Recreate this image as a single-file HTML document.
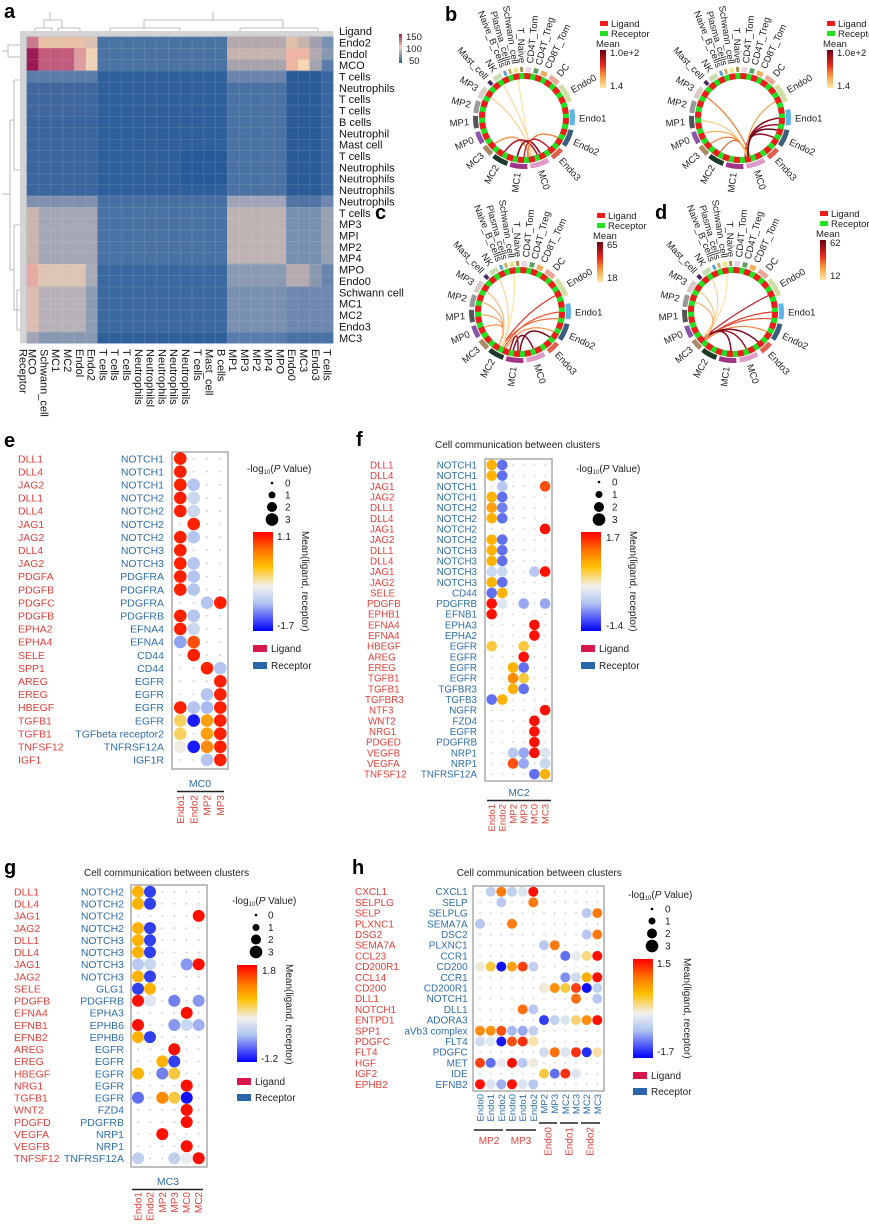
<!DOCTYPE html>
<html><head><meta charset="utf-8"><style>
html,body{margin:0;padding:0;background:#fff}
svg{display:block;font-family:"Liberation Sans",Arial,sans-serif}
</style></head><body>
<svg width="869" height="1225" viewBox="0 0 869 1225" xmlns="http://www.w3.org/2000/svg">
<defs>
<pattern id="hg" x="26.7" y="36.7" width="11.79" height="11.36" patternUnits="userSpaceOnUse"><path d="M0 0H11.79M0 0V11.36" stroke="#fff" stroke-opacity="0.28" stroke-width="0.7" fill="none"/></pattern>
<linearGradient id="hmg" x1="0" y1="0" x2="0" y2="1"><stop offset="0" stop-color="#9c1a52"/><stop offset="0.45" stop-color="#f2d2b2"/><stop offset="1" stop-color="#2f5f9a"/></linearGradient>
<linearGradient id="chg" x1="0" y1="0" x2="0" y2="1"><stop offset="0" stop-color="#6a0010"/><stop offset="0.4" stop-color="#e8281c"/><stop offset="0.7" stop-color="#f8a040"/><stop offset="1" stop-color="#fde8a8"/></linearGradient>
<linearGradient id="dg" x1="0" y1="0" x2="0" y2="1"><stop offset="0" stop-color="#ff0000"/><stop offset="0.2" stop-color="#ff7a00"/><stop offset="0.35" stop-color="#ffc000"/><stop offset="0.55" stop-color="#f0f0f0"/><stop offset="0.72" stop-color="#b0c4f0"/><stop offset="1" stop-color="#0000ff"/></linearGradient>
<pattern id="pe" x="173.65" y="452.05" width="13.3" height="13.1" patternUnits="userSpaceOnUse"><circle cx="6.65" cy="6.55" r="0.9" fill="#c4c4c4"/></pattern>
<pattern id="pf" x="486.35" y="459.67" width="10.7" height="10.66" patternUnits="userSpaceOnUse"><circle cx="5.35" cy="5.33" r="0.8" fill="#c4c4c4"/></pattern>
<pattern id="pg" x="131.94" y="885.64" width="12.12" height="12.12" patternUnits="userSpaceOnUse"><circle cx="6.06" cy="6.06" r="0.9" fill="#c4c4c4"/></pattern>
<pattern id="ph" x="474.67" y="886.35" width="10.67" height="10.7" patternUnits="userSpaceOnUse"><circle cx="5.33" cy="5.35" r="0.8" fill="#c4c4c4"/></pattern>
<g id="ring" fill="none">
<circle r="42" stroke="#22e022" stroke-width="6"/>
<circle r="42" stroke="#ee1c1c" stroke-width="6" stroke-dasharray="6 5"/>
<g stroke-width="5">
<circle r="48.5" stroke="#5ab4e8" stroke-dasharray="15.7 1000" transform="rotate(-10)"/>
<circle r="48.5" stroke="#3a5f7e" stroke-dasharray="17.4 1000" transform="rotate(14)"/>
<circle r="48.5" stroke="#e06050" stroke-dasharray="12.3 1000" transform="rotate(40)"/>
<circle r="48.5" stroke="#e09ac8" stroke-dasharray="19 1000" transform="rotate(60)"/>
<circle r="48.5" stroke="#a03585" stroke-dasharray="17.4 1000" transform="rotate(86)"/>
<circle r="48.5" stroke="#1d3a28" stroke-dasharray="15.7 1000" transform="rotate(110)"/>
<circle r="48.5" stroke="#a88a64" stroke-dasharray="10.6 1000" transform="rotate(132)"/>
<circle r="48.5" stroke="#8a55a5" stroke-dasharray="12.3 1000" transform="rotate(149)"/>
<circle r="48.5" stroke="#555555" stroke-dasharray="12.3 1000" transform="rotate(168)"/>
<circle r="48.5" stroke="#9a9a9a" stroke-dasharray="12.3 1000" transform="rotate(186)"/>
<circle r="48.5" stroke="#d8cac4" stroke-dasharray="12.3 1000" transform="rotate(204)"/>
<circle r="48.5" stroke="#4a2a60" stroke-dasharray="3.8 1000" transform="rotate(224)"/>
<circle r="48.5" stroke="#c8dcb4" stroke-dasharray="8.9 1000" transform="rotate(232)"/>
<circle r="48.5" stroke="#5aa0d0" stroke-dasharray="3 1000" transform="rotate(245.5)"/>
<circle r="48.5" stroke="#d0b060" stroke-dasharray="3 1000" transform="rotate(251.5)"/>
<circle r="48.5" stroke="#f2e68a" stroke-dasharray="4.7 1000" transform="rotate(257.5)"/>
<circle r="48.5" stroke="#a88a48" stroke-dasharray="3 1000" transform="rotate(265.5)"/>
<circle r="48.5" stroke="#e8d4e4" stroke-dasharray="5.5 1000" transform="rotate(272)"/>
<circle r="48.5" stroke="#5aa060" stroke-dasharray="4.7 1000" transform="rotate(281.5)"/>
<circle r="48.5" stroke="#f0b060" stroke-dasharray="6.3 1000" transform="rotate(290.5)"/>
<circle r="48.5" stroke="#e8a898" stroke-dasharray="10.6 1000" transform="rotate(302)"/>
<circle r="48.5" stroke="#d0e0a4" stroke-dasharray="19 1000" transform="rotate(318)"/>
</g>
</g>
<g id="chA" fill="none" stroke-width="1.1">
<path d="M-6.1,-38.5Q0,0 6.8,38.4" stroke="#fde0a0"/>
<path d="M-20.7,-33.1Q-1.3,0.6 10.1,37.7" stroke="#fcd49a"/>
<path d="M-33.1,-20.7Q-3.1,2.2 8.1,38.1" stroke="#fdc98a"/>
<path d="M-29.4,25.6Q-3,8 5.4,38.6" stroke="#f79a50" stroke-width="1.5"/>
<path d="M-19.5,33.8Q-0.8,8.8 13.3,36.6" stroke="#b01a2a" stroke-width="1.6"/>
<path d="M-6.8,38.4Q1.2,9.2 16,35" stroke="#8a0a20" stroke-width="1.6"/>
<path d="M33.8,19.5Q4.7,7.3 3.4,38.9" stroke="#f08040" stroke-width="1.4"/>
<path d="M25.1,29.9Q3.1,8.6 0,39" stroke="#c02030" stroke-width="1.4"/>
</g>
<g id="chB" fill="none" stroke-width="1.2">
<path d="M6.8,38.4Q5.7,4.8 39,0" stroke="#8a0a20" stroke-width="1.6"/>
<path d="M8.1,38.1Q5.8,5.6 38.4,6.8" stroke="#9a1028" stroke-width="1.6"/>
<path d="M5.4,38.6Q4.9,7.3 33.8,19.5" stroke="#a01828" stroke-width="1.6"/>
<path d="M6.8,38.4Q5.3,2.7 35.3,-16.5" stroke="#f0a050"/>
<path d="M8.1,38.1Q-3.5,6.7 -35.9,15.2" stroke="#f8b060"/>
<path d="M6.8,38.4Q-2.8,8 -29.4,25.6" stroke="#f08040"/>
<path d="M10.1,37.7Q-2.9,2.1 -33.1,-20.7" stroke="#f07830"/>
<path d="M6.8,38.4Q-1.6,9 -19.5,33.8" stroke="#e06030"/>
<path d="M6.8,38.4Q-4,5.1 -38.9,2.7" stroke="#fcc880"/>
<path d="M8.1,38.1Q5.6,6.3 37,12" stroke="#600818" stroke-width="1.6"/>
</g>
<g id="chC" fill="none" stroke-width="1.2">
<path d="M-18.3,34.4Q2.1,2.2 35.3,-16.5" stroke="#e03020"/>
<path d="M-16,35.6Q2.9,4.5 39,0" stroke="#f05030"/>
<path d="M-18.3,34.4Q2.5,5.1 38.4,6.8" stroke="#f06838"/>
<path d="M-14,36.4Q2.5,7 33.8,19.5" stroke="#f89050"/>
<path d="M-6.8,38.4Q0.8,9.4 13.3,36.6" stroke="#8a0a20" stroke-width="1.5"/>
<path d="M0,39Q3.7,8 29.9,25.1" stroke="#7a0818" stroke-width="1.5"/>
<path d="M-21,33Q-7.3,2.9 -37.7,-10.1" stroke="#fca870"/>
<path d="M-21,33Q-7.5,4.5 -38.9,2.7" stroke="#f8a060"/>
<path d="M-21,33Q-7.1,6 -35.9,15.2" stroke="#f89050"/>
<path d="M-21,33Q-6.8,1.5 -33.1,-20.7" stroke="#fcb880"/>
<path d="M-6.1,-38.5Q-3,-0.5 -18.3,34.4" stroke="#fde6a0"/>
<path d="M-20.7,-33.1Q-4.7,0.2 -17,35" stroke="#fcd49a"/>
<path d="M-10,37.7Q-1.5,9.6 -2,39" stroke="#a01020" stroke-width="1.5"/>
</g>
<g id="chD" fill="none" stroke-width="1.2">
<path d="M-29.4,25.6Q0.7,1.1 35.3,-16.5" stroke="#c01828"/>
<path d="M-28,27Q1.4,3.4 39,0" stroke="#e03828"/>
<path d="M-28,27Q1.3,4.2 38.4,6.8" stroke="#f05030"/>
<path d="M-27,28Q0.9,6 33.8,19.5" stroke="#f58a48"/>
<path d="M-29.4,25.6Q-3.9,8 -2,39" stroke="#8a0a20" stroke-width="1.5"/>
<path d="M-29.4,25.6Q-2,7.8 13.3,36.6" stroke="#9a1028" stroke-width="1.5"/>
<path d="M-29.4,25.6Q-0.5,7 25.1,29.9" stroke="#7a0818" stroke-width="1.5"/>
<path d="M-6.1,-38.5Q-4.4,-1.6 -29.4,25.6" stroke="#fde0a0"/>
<path d="M-20.7,-33.1Q-6.3,-1 -30,25" stroke="#fcd49a"/>
<path d="M-33.1,-20.7Q-7.6,0.8 -28,27" stroke="#fcc880"/>
<path d="M-37.7,-10.1Q-8.2,2.1 -28,27" stroke="#fbb070"/>
</g>
</defs>

<!-- ===== Panel a ===== -->
<text x="4" y="18" font-size="20" font-weight="bold">a</text>
<g stroke="#aaa" stroke-width="0.8" fill="none">
<path d="M50,12V20M44,20H62M44,20V28M62,20V28M35,28H52M35,28V32M52,28V32M58,28H80M58,28V32M80,28V32M32,32V36M41,32V36M76,32V36M88,32V36"/>
<path d="M213,12V20M144,20H283M144,20V28M283,20V28M110,28H180M110,28V32M180,28V32M100,32H130M150,32H215M100,32V36M130,32V36M150,32V36M215,32V36M240,28H318M240,28V32M318,28V32M232,32H270M295,32H325M232,32V36M270,32V36M295,32V36M325,32V36"/>
<path d="M2,51H8M8,45V57M8,45H20M8,57H20"/>
<path d="M2,194H10M10,120V270M10,120H14M14,80V170M14,80H20M14,170H20M10,270H14M14,225V310M14,225H20M14,310H20M17,290V330M17,290H20M17,330H20"/>
</g>
<rect x="20" y="31" width="313.3" height="5.7" fill="#d4d4d4"/>
<rect x="20" y="31" width="6.7" height="312.4" fill="#d4d4d4"/>
<rect x="26.7" y="36.7" width="306.6" height="306.7" fill="#3464a0"/>
<g>
<rect x="26.7" y="36.7" width="11.8" height="11.36" fill="#c87a8c"/>
<rect x="38.5" y="36.7" width="47.4" height="11.36" fill="#e8c0a8"/>
<rect x="85.9" y="36.7" width="11.5" height="11.36" fill="#dcc0b4"/>
<rect x="97.4" y="36.7" width="129.7" height="34.1" fill="#4a72a2"/>
<rect x="227.1" y="36.7" width="59" height="11.36" fill="#b4a8ac"/>
<rect x="286.1" y="36.7" width="11.8" height="11.36" fill="#e0c0a8"/>
<rect x="297.9" y="36.7" width="11.8" height="11.36" fill="#c8b4ac"/>
<rect x="309.7" y="36.7" width="11.8" height="11.36" fill="#a0a0ac"/>
<rect x="321.5" y="36.7" width="11.8" height="11.36" fill="#7890b0"/>
<rect x="26.7" y="48.06" width="11.8" height="22.72" fill="#9c1a52"/>
<rect x="38.5" y="48.06" width="35.6" height="11.36" fill="#c45a7a"/>
<rect x="74.1" y="48.06" width="11.8" height="11.36" fill="#e09a9a"/>
<rect x="85.9" y="48.06" width="11.5" height="11.36" fill="#f2d2b2"/>
<rect x="227.1" y="48.06" width="59" height="11.36" fill="#c4b4ac"/>
<rect x="286.1" y="48.06" width="23.6" height="11.36" fill="#eeb4a4"/>
<rect x="309.7" y="48.06" width="11.8" height="11.36" fill="#b0a8ac"/>
<rect x="321.5" y="48.06" width="11.8" height="11.36" fill="#8898b0"/>
<rect x="38.5" y="59.42" width="35.6" height="11.36" fill="#c25c7c"/>
<rect x="74.1" y="59.42" width="11.8" height="11.36" fill="#dc9ea0"/>
<rect x="85.9" y="59.42" width="11.5" height="11.36" fill="#ecd2b8"/>
<rect x="227.1" y="59.42" width="59" height="11.36" fill="#a8a4ac"/>
<rect x="286.1" y="59.42" width="11.8" height="11.36" fill="#eeb4a4"/>
<rect x="297.9" y="59.42" width="11.8" height="11.36" fill="#f8d8b4"/>
<rect x="309.7" y="59.42" width="11.8" height="11.36" fill="#a4a4b0"/>
<rect x="321.5" y="59.42" width="11.8" height="11.36" fill="#5c7cac"/>
</g>
<rect x="26.7" y="70.8" width="70.7" height="124.9" fill="#3a659e"/>
<rect x="227.1" y="70.8" width="59" height="124.9" fill="#4a72a4"/>
<rect x="286.1" y="70.8" width="35.4" height="124.9" fill="#2c5c98"/>
<rect x="321.5" y="70.8" width="11.8" height="124.9" fill="#3a66a0"/>
<rect x="26.7" y="70.8" width="70.7" height="11.36" fill="#5a7ca8"/>
<rect x="227.1" y="70.8" width="59" height="11.36" fill="#6a84ac"/>
<rect x="26.7" y="82.2" width="70.7" height="34" fill="#44699f" opacity="0.6"/>
<rect x="97.4" y="70.8" width="129.7" height="124.9" fill="#30609b"/>
<rect x="180" y="150" width="47" height="35" fill="#285a9a"/>
<rect x="26.7" y="195.7" width="70.7" height="11.36" fill="#8090b0"/>
<rect x="97.4" y="195.7" width="129.7" height="11.36" fill="#4670a2"/>
<rect x="227.1" y="195.7" width="59" height="11.36" fill="#a0a4b8"/>
<rect x="286.1" y="195.7" width="35.4" height="11.36" fill="#5074a4"/>
<rect x="321.5" y="195.7" width="11.8" height="11.36" fill="#7088b0"/>
<rect x="26.7" y="207.1" width="11.8" height="56.8" fill="#cab4ac"/>
<rect x="38.5" y="207.1" width="58.9" height="56.8" fill="#a4a8b6"/>
<rect x="97.4" y="207.1" width="129.7" height="56.8" fill="#4a72a5"/>
<rect x="227.1" y="207.1" width="59" height="56.8" fill="#beb2b2"/>
<rect x="286.1" y="207.1" width="35.4" height="56.8" fill="#7890b0"/>
<rect x="321.5" y="207.1" width="11.8" height="56.8" fill="#98a0b4"/>
<rect x="26.7" y="263.9" width="11.8" height="22.7" fill="#e6aaa2"/>
<rect x="38.5" y="263.9" width="47.4" height="22.7" fill="#dcc4b2"/>
<rect x="85.9" y="263.9" width="11.5" height="22.7" fill="#a8aab8"/>
<rect x="97.4" y="263.9" width="129.7" height="22.7" fill="#3a68a0"/>
<rect x="227.1" y="263.9" width="59" height="22.7" fill="#8a9ab4"/>
<rect x="286.1" y="263.9" width="23.6" height="22.7" fill="#b4aab0"/>
<rect x="309.7" y="263.9" width="11.8" height="22.7" fill="#8898b0"/>
<rect x="321.5" y="263.9" width="11.8" height="22.7" fill="#6a84ac"/>
<rect x="26.7" y="286.6" width="11.8" height="45.5" fill="#dcbcb0"/>
<rect x="38.5" y="286.6" width="47.4" height="45.5" fill="#b8b2b8"/>
<rect x="85.9" y="286.6" width="11.5" height="45.5" fill="#8c9cb4"/>
<rect x="97.4" y="286.6" width="129.7" height="45.5" fill="#3c69a0"/>
<rect x="227.1" y="286.6" width="59" height="45.5" fill="#7a90b0"/>
<rect x="286.1" y="286.6" width="47.2" height="45.5" fill="#6e88b0"/>
<rect x="26.7" y="332.1" width="11.8" height="11.3" fill="#a0a4b4"/>
<rect x="38.5" y="332.1" width="58.9" height="11.3" fill="#8898b0"/>
<rect x="97.4" y="332.1" width="129.7" height="11.3" fill="#30609a"/>
<rect x="227.1" y="332.1" width="59" height="11.3" fill="#5a7cac"/>
<rect x="286.1" y="332.1" width="47.2" height="11.3" fill="#4a72a4"/>
<rect x="26.7" y="36.7" width="306.6" height="306.7" fill="url(#hg)"/>
<text font-size="11" fill="#111">
<tspan x="339" y="35">Ligand</tspan>
<tspan x="339" y="46.4">Endo2</tspan><tspan x="339" dy="11.36">Endol</tspan><tspan x="339" dy="11.36">MCO</tspan><tspan x="339" dy="11.36">T cells</tspan><tspan x="339" dy="11.36">Neutrophils</tspan><tspan x="339" dy="11.36">T cells</tspan><tspan x="339" dy="11.36">T cells</tspan><tspan x="339" dy="11.36">B cells</tspan><tspan x="339" dy="11.36">Neutrophil</tspan><tspan x="339" dy="11.36">Mast cell</tspan><tspan x="339" dy="11.36">T cells</tspan><tspan x="339" dy="11.36">Neutrophils</tspan><tspan x="339" dy="11.36">Neutrophils</tspan><tspan x="339" dy="11.36">Neutrophils</tspan><tspan x="339" dy="11.36">Neutrophils</tspan><tspan x="339" dy="11.36">T cells</tspan><tspan x="339" dy="11.36">MP3</tspan><tspan x="339" dy="11.36">MPI</tspan><tspan x="339" dy="11.36">MP2</tspan><tspan x="339" dy="11.36">MP4</tspan><tspan x="339" dy="11.36">MPO</tspan><tspan x="339" dy="11.36">Endo0</tspan><tspan x="339" dy="11.36">Schwann cell</tspan><tspan x="339" dy="11.36">MC1</tspan><tspan x="339" dy="11.36">MC2</tspan><tspan x="339" dy="11.36">Endo3</tspan><tspan x="339" dy="11.36">MC3</tspan>
</text>
<g font-size="11" fill="#111">
<text transform="translate(19.5,349) rotate(90)">Receptor</text>
<text transform="translate(28.6,349) rotate(90)">MCO</text>
<text transform="translate(40.4,349) rotate(90)">Schwann_cell</text>
<text transform="translate(52.2,349) rotate(90)">MC1</text>
<text transform="translate(64,349) rotate(90)">MC2</text>
<text transform="translate(75.8,349) rotate(90)">Endol</text>
<text transform="translate(87.6,349) rotate(90)">Endo2</text>
<text transform="translate(99.4,349) rotate(90)">T cells</text>
<text transform="translate(111.2,349) rotate(90)">T cells</text>
<text transform="translate(123,349) rotate(90)">T cells</text>
<text transform="translate(134.8,349) rotate(90)">Neutrophils</text>
<text transform="translate(146.6,349) rotate(90)">Neutrophilsl</text>
<text transform="translate(158.4,349) rotate(90)">Neutrophils</text>
<text transform="translate(170.2,349) rotate(90)">Neutrophils</text>
<text transform="translate(182,349) rotate(90)">Neutrophils</text>
<text transform="translate(193.8,349) rotate(90)">T cells</text>
<text transform="translate(205.6,349) rotate(90)">Mast_cell</text>
<text transform="translate(217.4,349) rotate(90)">B cells</text>
<text transform="translate(229.2,349) rotate(90)">MP1</text>
<text transform="translate(241,349) rotate(90)">MP3</text>
<text transform="translate(252.8,349) rotate(90)">MP2</text>
<text transform="translate(264.6,349) rotate(90)">MP4</text>
<text transform="translate(276.4,349) rotate(90)">MPO</text>
<text transform="translate(288.2,349) rotate(90)">Endo0</text>
<text transform="translate(300,349) rotate(90)">MC3</text>
<text transform="translate(311.8,349) rotate(90)">Endo3</text>
<text transform="translate(323.6,349) rotate(90)">T cells</text>
</g>
<rect x="399" y="34" width="3" height="29" fill="url(#hmg)"/>
<text font-size="9.5" fill="#222"><tspan x="406" y="40">150</tspan><tspan x="406" y="52">100</tspan><tspan x="409" y="64">50</tspan></text>

<!-- ===== Chord diagrams ===== -->
<text x="445" y="21" font-size="20" font-weight="bold">b</text>
<text x="375" y="219" font-size="20" font-weight="bold">c</text>
<text x="655" y="219" font-size="20" font-weight="bold">d</text>

<g transform="translate(524,118)"><use href="#ring"/><use href="#chA"/></g>
<g transform="translate(740,118)"><use href="#ring"/><use href="#chB"/></g>
<g transform="translate(520,312)"><use href="#ring"/><use href="#chC"/></g>
<g transform="translate(733,312)"><use href="#ring"/><use href="#chD"/></g>

<g font-size="9.5" fill="#222">
<g transform="translate(524,118)">
<text x="55" y="0" dy=".35em">Endo1</text>
<text transform="rotate(25) translate(55,0)" dy=".35em">Endo2</text>
<text transform="rotate(48) translate(55,0)" dy=".35em">Endo3</text>
<text transform="rotate(72) translate(55,0)" dy=".35em">MC0</text>
<text transform="rotate(97) translate(55,0) rotate(180)" dy=".35em" text-anchor="end">MC1</text>
<text transform="rotate(120) translate(55,0) rotate(180)" dy=".35em" text-anchor="end">MC2</text>
<text transform="rotate(139) translate(55,0) rotate(180)" dy=".35em" text-anchor="end">MC3</text>
<text transform="rotate(157) translate(55,0) rotate(180)" dy=".35em" text-anchor="end">MP0</text>
<text transform="rotate(176) translate(55,0) rotate(180)" dy=".35em" text-anchor="end">MP1</text>
<text transform="rotate(194) translate(55,0) rotate(180)" dy=".35em" text-anchor="end">MP2</text>
<text transform="rotate(212) translate(55,0) rotate(180)" dy=".35em" text-anchor="end">MP3</text>
<text transform="rotate(227) translate(55,0) rotate(180)" dy=".35em" text-anchor="end">Mast_cell</text>
<text transform="rotate(238) translate(55,0) rotate(180)" dy=".35em" text-anchor="end">NK</text>
<text transform="rotate(248) translate(55,0) rotate(180)" dy=".35em" text-anchor="end">Naive_B_cells</text>
<text transform="rotate(254) translate(55,0) rotate(180)" dy=".35em" text-anchor="end">Plasma_cells</text>
<text transform="rotate(261) translate(55,0) rotate(180)" dy=".35em" text-anchor="end">Schwann_cell</text>
<text transform="rotate(268) translate(55,0) rotate(180)" dy=".35em" text-anchor="end">T_Naive</text>
<text transform="rotate(276) translate(55,0)" dy=".35em">CD4T_Tom</text>
<text transform="rotate(285) translate(55,0)" dy=".35em">CD4T_Treg</text>
<text transform="rotate(295) translate(55,0)" dy=".35em">CD8T_Tom</text>
<text transform="rotate(309) translate(55,0)" dy=".35em">DC</text>
<text transform="rotate(330) translate(55,0)" dy=".35em">Endo0</text>
</g>
<g transform="translate(740,118)">
<text x="55" y="0" dy=".35em">Endo1</text>
<text transform="rotate(25) translate(55,0)" dy=".35em">Endo2</text>
<text transform="rotate(48) translate(55,0)" dy=".35em">Endo3</text>
<text transform="rotate(72) translate(55,0)" dy=".35em">MC0</text>
<text transform="rotate(97) translate(55,0) rotate(180)" dy=".35em" text-anchor="end">MC1</text>
<text transform="rotate(120) translate(55,0) rotate(180)" dy=".35em" text-anchor="end">MC2</text>
<text transform="rotate(139) translate(55,0) rotate(180)" dy=".35em" text-anchor="end">MC3</text>
<text transform="rotate(157) translate(55,0) rotate(180)" dy=".35em" text-anchor="end">MP0</text>
<text transform="rotate(176) translate(55,0) rotate(180)" dy=".35em" text-anchor="end">MP1</text>
<text transform="rotate(194) translate(55,0) rotate(180)" dy=".35em" text-anchor="end">MP2</text>
<text transform="rotate(212) translate(55,0) rotate(180)" dy=".35em" text-anchor="end">MP3</text>
<text transform="rotate(227) translate(55,0) rotate(180)" dy=".35em" text-anchor="end">Mast_cell</text>
<text transform="rotate(238) translate(55,0) rotate(180)" dy=".35em" text-anchor="end">NK</text>
<text transform="rotate(248) translate(55,0) rotate(180)" dy=".35em" text-anchor="end">Naive_B_cells</text>
<text transform="rotate(254) translate(55,0) rotate(180)" dy=".35em" text-anchor="end">Plasma_cells</text>
<text transform="rotate(261) translate(55,0) rotate(180)" dy=".35em" text-anchor="end">Schwann_cell</text>
<text transform="rotate(268) translate(55,0) rotate(180)" dy=".35em" text-anchor="end">T_Naive</text>
<text transform="rotate(276) translate(55,0)" dy=".35em">CD4T_Tom</text>
<text transform="rotate(285) translate(55,0)" dy=".35em">CD4T_Treg</text>
<text transform="rotate(295) translate(55,0)" dy=".35em">CD8T_Tom</text>
<text transform="rotate(309) translate(55,0)" dy=".35em">DC</text>
<text transform="rotate(330) translate(55,0)" dy=".35em">Endo0</text>
</g>
<g transform="translate(520,312)">
<text x="55" y="0" dy=".35em">Endo1</text>
<text transform="rotate(25) translate(55,0)" dy=".35em">Endo2</text>
<text transform="rotate(48) translate(55,0)" dy=".35em">Endo3</text>
<text transform="rotate(72) translate(55,0)" dy=".35em">MC0</text>
<text transform="rotate(97) translate(55,0) rotate(180)" dy=".35em" text-anchor="end">MC1</text>
<text transform="rotate(120) translate(55,0) rotate(180)" dy=".35em" text-anchor="end">MC2</text>
<text transform="rotate(139) translate(55,0) rotate(180)" dy=".35em" text-anchor="end">MC3</text>
<text transform="rotate(157) translate(55,0) rotate(180)" dy=".35em" text-anchor="end">MP0</text>
<text transform="rotate(176) translate(55,0) rotate(180)" dy=".35em" text-anchor="end">MP1</text>
<text transform="rotate(194) translate(55,0) rotate(180)" dy=".35em" text-anchor="end">MP2</text>
<text transform="rotate(212) translate(55,0) rotate(180)" dy=".35em" text-anchor="end">MP3</text>
<text transform="rotate(227) translate(55,0) rotate(180)" dy=".35em" text-anchor="end">Mast_cell</text>
<text transform="rotate(238) translate(55,0) rotate(180)" dy=".35em" text-anchor="end">NK</text>
<text transform="rotate(248) translate(55,0) rotate(180)" dy=".35em" text-anchor="end">Naive_B_cells</text>
<text transform="rotate(254) translate(55,0) rotate(180)" dy=".35em" text-anchor="end">Plasma_cells</text>
<text transform="rotate(261) translate(55,0) rotate(180)" dy=".35em" text-anchor="end">Schwann_cell</text>
<text transform="rotate(268) translate(55,0) rotate(180)" dy=".35em" text-anchor="end">T_Naive</text>
<text transform="rotate(276) translate(55,0)" dy=".35em">CD4T_Tom</text>
<text transform="rotate(285) translate(55,0)" dy=".35em">CD4T_Treg</text>
<text transform="rotate(295) translate(55,0)" dy=".35em">CD8T_Tom</text>
<text transform="rotate(309) translate(55,0)" dy=".35em">DC</text>
<text transform="rotate(330) translate(55,0)" dy=".35em">Endo0</text>
</g>
<g transform="translate(733,312)">
<text x="55" y="0" dy=".35em">Endo1</text>
<text transform="rotate(25) translate(55,0)" dy=".35em">Endo2</text>
<text transform="rotate(48) translate(55,0)" dy=".35em">Endo3</text>
<text transform="rotate(72) translate(55,0)" dy=".35em">MC0</text>
<text transform="rotate(97) translate(55,0) rotate(180)" dy=".35em" text-anchor="end">MC1</text>
<text transform="rotate(120) translate(55,0) rotate(180)" dy=".35em" text-anchor="end">MC2</text>
<text transform="rotate(139) translate(55,0) rotate(180)" dy=".35em" text-anchor="end">MC3</text>
<text transform="rotate(157) translate(55,0) rotate(180)" dy=".35em" text-anchor="end">MP0</text>
<text transform="rotate(176) translate(55,0) rotate(180)" dy=".35em" text-anchor="end">MP1</text>
<text transform="rotate(194) translate(55,0) rotate(180)" dy=".35em" text-anchor="end">MP2</text>
<text transform="rotate(212) translate(55,0) rotate(180)" dy=".35em" text-anchor="end">MP3</text>
<text transform="rotate(227) translate(55,0) rotate(180)" dy=".35em" text-anchor="end">Mast_cell</text>
<text transform="rotate(238) translate(55,0) rotate(180)" dy=".35em" text-anchor="end">NK</text>
<text transform="rotate(248) translate(55,0) rotate(180)" dy=".35em" text-anchor="end">Naive_B_cells</text>
<text transform="rotate(254) translate(55,0) rotate(180)" dy=".35em" text-anchor="end">Plasma_cells</text>
<text transform="rotate(261) translate(55,0) rotate(180)" dy=".35em" text-anchor="end">Schwann_cell</text>
<text transform="rotate(268) translate(55,0) rotate(180)" dy=".35em" text-anchor="end">T_Naive</text>
<text transform="rotate(276) translate(55,0)" dy=".35em">CD4T_Tom</text>
<text transform="rotate(285) translate(55,0)" dy=".35em">CD4T_Treg</text>
<text transform="rotate(295) translate(55,0)" dy=".35em">CD8T_Tom</text>
<text transform="rotate(309) translate(55,0)" dy=".35em">DC</text>
<text transform="rotate(330) translate(55,0)" dy=".35em">Endo0</text>
</g>
</g>

<g font-size="9.5" fill="#222">
<rect x="600" y="21" width="8" height="5" fill="#ee1c1c"/><text x="611" y="27">Ligand</text>
<rect x="600" y="31" width="8" height="5" fill="#22e022"/><text x="611" y="37">Receptor</text>
<text x="596" y="47">Mean</text>
<rect x="600" y="50" width="6" height="38" fill="url(#chg)"/>
<text x="610" y="56">1.0e+2</text><text x="610" y="89">1.4</text>

<rect x="827" y="21" width="8" height="5" fill="#ee1c1c"/><text x="838" y="27">Ligand</text>
<rect x="827" y="31" width="8" height="5" fill="#22e022"/><text x="838" y="37">Receptor</text>
<text x="823" y="47">Mean</text>
<rect x="827" y="50" width="6" height="38" fill="url(#chg)"/>
<text x="837" y="56">1.0e+2</text><text x="837" y="89">1.4</text>

<rect x="597" y="213" width="8" height="5" fill="#ee1c1c"/><text x="608" y="219">Ligand</text>
<rect x="597" y="223" width="8" height="5" fill="#22e022"/><text x="608" y="229">Receptor</text>
<text x="593" y="239">Mean</text>
<rect x="597" y="242" width="6" height="40" fill="url(#chg)"/>
<text x="607" y="248">65</text><text x="607" y="281">18</text>

<rect x="820" y="211" width="8" height="5" fill="#ee1c1c"/><text x="831" y="217">Ligand</text>
<rect x="820" y="221" width="8" height="5" fill="#22e022"/><text x="831" y="227">Receptor</text>
<text x="816" y="237">Mean</text>
<rect x="820" y="240" width="6" height="40" fill="url(#chg)"/>
<text x="830" y="246">62</text><text x="830" y="279">12</text>
</g>

<!-- ===== Panel e ===== -->
<text x="4" y="447" font-size="20" font-weight="bold">e</text>
<rect x="172" y="452" width="56" height="317" fill="url(#pe)"/>
<rect x="172" y="452" width="56" height="317" fill="none" stroke="#aaa" stroke-width="1.5"/>
<text font-size="10.5" fill="#e0403a">
<tspan x="18" y="462.3">DLL1</tspan><tspan x="18" dy="13.1">DLL4</tspan><tspan x="18" dy="13.1">JAG2</tspan><tspan x="18" dy="13.1">DLL1</tspan><tspan x="18" dy="13.1">DLL4</tspan><tspan x="18" dy="13.1">JAG1</tspan><tspan x="18" dy="13.1">JAG2</tspan><tspan x="18" dy="13.1">DLL4</tspan><tspan x="18" dy="13.1">JAG2</tspan><tspan x="18" dy="13.1">PDGFA</tspan><tspan x="18" dy="13.1">PDGFB</tspan><tspan x="18" dy="13.1">PDGFC</tspan><tspan x="18" dy="13.1">PDGFB</tspan><tspan x="18" dy="13.1">EPHA2</tspan><tspan x="18" dy="13.1">EPHA4</tspan><tspan x="18" dy="13.1">SELE</tspan><tspan x="18" dy="13.1">SPP1</tspan><tspan x="18" dy="13.1">AREG</tspan><tspan x="18" dy="13.1">EREG</tspan><tspan x="18" dy="13.1">HBEGF</tspan><tspan x="18" dy="13.1">TGFB1</tspan><tspan x="18" dy="13.1">TGFB1</tspan><tspan x="18" dy="13.1">TNFSF12</tspan><tspan x="18" dy="13.1">IGF1</tspan>
</text>
<text font-size="10.5" fill="#2f6ea8" text-anchor="end">
<tspan x="164" y="462.3">NOTCH1</tspan><tspan x="164" dy="13.1">NOTCH1</tspan><tspan x="164" dy="13.1">NOTCH1</tspan><tspan x="164" dy="13.1">NOTCH2</tspan><tspan x="164" dy="13.1">NOTCH2</tspan><tspan x="164" dy="13.1">NOTCH2</tspan><tspan x="164" dy="13.1">NOTCH2</tspan><tspan x="164" dy="13.1">NOTCH3</tspan><tspan x="164" dy="13.1">NOTCH3</tspan><tspan x="164" dy="13.1">PDGFRA</tspan><tspan x="164" dy="13.1">PDGFRA</tspan><tspan x="164" dy="13.1">PDGFRA</tspan><tspan x="164" dy="13.1">PDGFRB</tspan><tspan x="164" dy="13.1">EFNA4</tspan><tspan x="164" dy="13.1">EFNA4</tspan><tspan x="164" dy="13.1">CD44</tspan><tspan x="164" dy="13.1">CD44</tspan><tspan x="164" dy="13.1">EGFR</tspan><tspan x="164" dy="13.1">EGFR</tspan><tspan x="164" dy="13.1">EGFR</tspan><tspan x="164" dy="13.1">EGFR</tspan><tspan x="164" dy="13.1">TGFbeta receptor2</tspan><tspan x="164" dy="13.1">TNFRSF12A</tspan><tspan x="164" dy="13.1">IGF1R</tspan>
</text>
<g>
<circle cx="180.3" cy="458.6" r="6.3" fill="#ff2000"/>
<circle cx="180.3" cy="471.7" r="6.3" fill="#ff2000"/>
<circle cx="180.3" cy="484.8" r="6.3" fill="#ff2000"/><circle cx="193.7" cy="484.8" r="6.3" fill="#b4c6f0"/>
<circle cx="180.3" cy="497.9" r="6.3" fill="#ff2000"/><circle cx="193.7" cy="497.9" r="6.3" fill="#c9d8ee"/>
<circle cx="180.3" cy="511" r="6.3" fill="#ff2000"/><circle cx="193.7" cy="511" r="6.3" fill="#c9d8ee"/>
<circle cx="193.7" cy="524.1" r="6.3" fill="#ff2000"/>
<circle cx="180.3" cy="537.2" r="6.3" fill="#ff2000"/><circle cx="193.7" cy="537.2" r="6.3" fill="#b4c6f0"/>
<circle cx="180.3" cy="550.3" r="6.3" fill="#ff2000"/>
<circle cx="180.3" cy="563.4" r="6.3" fill="#ff2000"/><circle cx="193.7" cy="563.4" r="6.3" fill="#b4c6f0"/>
<circle cx="180.3" cy="576.5" r="6.3" fill="#ff2000"/><circle cx="193.7" cy="576.5" r="6.3" fill="#b4c6f0"/>
<circle cx="180.3" cy="589.6" r="6.3" fill="#ff2000"/><circle cx="193.7" cy="589.6" r="6.3" fill="#b4c6f0"/>
<circle cx="207" cy="602.7" r="6.3" fill="#b4c6f0"/><circle cx="220.3" cy="602.7" r="6.3" fill="#ff2000"/>
<circle cx="180.3" cy="615.8" r="6.3" fill="#ff2000"/><circle cx="193.7" cy="615.8" r="6.3" fill="#b4c6f0"/>
<circle cx="180.3" cy="628.9" r="6.3" fill="#ff2000"/><circle cx="193.7" cy="628.9" r="6.3" fill="#c9d8ee"/>
<circle cx="180.3" cy="642" r="6.3" fill="#8ea2f0"/><circle cx="193.7" cy="642" r="6.3" fill="#ff5010"/>
<circle cx="193.7" cy="655.1" r="6.3" fill="#ff2000"/>
<circle cx="207" cy="668.2" r="6.3" fill="#ff2000"/><circle cx="220.3" cy="668.2" r="6.3" fill="#b4c6f0"/>
<circle cx="220.3" cy="681.3" r="6.3" fill="#ff2000"/>
<circle cx="207" cy="694.4" r="6.3" fill="#b4c6f0"/><circle cx="220.3" cy="694.4" r="6.3" fill="#ff2000"/>
<circle cx="180.3" cy="707.5" r="6.3" fill="#ff2000"/><circle cx="193.7" cy="707.5" r="6.3" fill="#b4c6f0"/><circle cx="207" cy="707.5" r="6.3" fill="#a8b8f0"/><circle cx="220.3" cy="707.5" r="6.3" fill="#ff2000"/>
<circle cx="180.3" cy="720.6" r="6.3" fill="#f8d060"/><circle cx="193.7" cy="720.6" r="6.3" fill="#1a1aff"/><circle cx="207" cy="720.6" r="6.3" fill="#ffa010"/><circle cx="220.3" cy="720.6" r="6.3" fill="#ff2000"/>
<circle cx="180.3" cy="733.7" r="6.3" fill="#f8d060"/><circle cx="207" cy="733.7" r="6.3" fill="#ffa010"/><circle cx="220.3" cy="733.7" r="6.3" fill="#ff2000"/>
<circle cx="180.3" cy="746.8" r="6.3" fill="#f0ece4"/><circle cx="193.7" cy="746.8" r="6.3" fill="#1a1aff"/><circle cx="207" cy="746.8" r="6.3" fill="#ff8a10"/><circle cx="220.3" cy="746.8" r="6.3" fill="#ff2000"/>
<circle cx="207" cy="759.9" r="6.3" fill="#b4c6f0"/><circle cx="220.3" cy="759.9" r="6.3" fill="#ff2000"/>
</g>
<text x="200" y="787" font-size="10.5" fill="#2f6ea8" text-anchor="middle">MC0</text>
<line x1="177" y1="791.5" x2="224" y2="791.5" stroke="#222" stroke-width="1.5"/>
<g font-size="10" fill="#e0403a" text-anchor="end">
<text transform="translate(184,795) rotate(-90)">Endo1</text>
<text transform="translate(197.4,795) rotate(-90)">Endo2</text>
<text transform="translate(210.7,795) rotate(-90)">MP2</text>
<text transform="translate(224,795) rotate(-90)">MP3</text>
</g>
<g font-size="10" fill="#222">
<text x="247" y="472">-log<tspan font-size="6" dy="2">10</tspan><tspan dy="-2">(</tspan><tspan font-style="italic">P</tspan> Value)</text>
<circle cx="272" cy="483" r="1.3" fill="#000"/><circle cx="272" cy="495" r="3.5" fill="#000"/><circle cx="272" cy="507" r="5" fill="#000"/><circle cx="272" cy="519.5" r="6.3" fill="#000"/>
<text x="285" y="486.5">0</text><text x="285" y="498.5">1</text><text x="285" y="510.5">2</text><text x="285" y="523">3</text>
<rect x="253" y="532" width="20" height="99" fill="url(#dg)"/>
<text x="277" y="540">1.1</text><text x="277" y="629">-1.7</text>
<text transform="translate(302,531) rotate(90)">Mean(ligand, receptor)</text>
<rect x="253" y="645" width="14" height="7" fill="#d8184a"/><text x="271" y="652">Ligand</text>
<rect x="253" y="662" width="14" height="7" fill="#2a66a8"/><text x="271" y="669">Receptor</text>
</g>

<!-- ===== Panel f ===== -->
<text x="356" y="446" font-size="20" font-weight="bold">f</text>
<text x="435" y="448" font-size="10" fill="#222">Cell communication between clusters</text>
<rect x="485" y="459" width="67" height="322" fill="url(#pf)"/>
<rect x="485" y="459" width="67" height="322" fill="none" stroke="#aaa" stroke-width="1.5"/>
<text font-size="9.8" fill="#e0403a">
<tspan x="370" y="468.5">DLL1</tspan><tspan x="370" dy="10.66">DLL4</tspan><tspan x="370" dy="10.66">JAG1</tspan><tspan x="370" dy="10.66">JAG2</tspan><tspan x="370" dy="10.66">DLL1</tspan><tspan x="370" dy="10.66">DLL4</tspan><tspan x="370" dy="10.66">JAG1</tspan><tspan x="370" dy="10.66">JAG2</tspan><tspan x="370" dy="10.66">DLL1</tspan><tspan x="370" dy="10.66">DLL4</tspan><tspan x="370" dy="10.66">JAG1</tspan><tspan x="370" dy="10.66">JAG2</tspan><tspan x="370" dy="10.66">SELE</tspan><tspan x="367" dy="10.66">PDGFB</tspan><tspan x="368" dy="10.66">EPHB1</tspan><tspan x="368" dy="10.66">EFNA4</tspan><tspan x="368" dy="10.66">EFNA4</tspan><tspan x="367" dy="10.66">HBEGF</tspan><tspan x="368" dy="10.66">AREG</tspan><tspan x="368" dy="10.66">EREG</tspan><tspan x="368" dy="10.66">TGFB1</tspan><tspan x="368" dy="10.66">TGFB1</tspan><tspan x="365" dy="10.66">TGFBR3</tspan><tspan x="369" dy="10.66">NTF3</tspan><tspan x="368" dy="10.66">WNT2</tspan><tspan x="369" dy="10.66">NRG1</tspan><tspan x="366" dy="10.66">PDGED</tspan><tspan x="367" dy="10.66">VEGFB</tspan><tspan x="367" dy="10.66">VEGFA</tspan><tspan x="364" dy="10.66">TNFSF12</tspan>
</text>
<text font-size="9.8" fill="#2f6ea8" text-anchor="end">
<tspan x="477" y="468.5">NOTCH1</tspan><tspan x="477" dy="10.66">NOTCH1</tspan><tspan x="477" dy="10.66">NOTCH1</tspan><tspan x="477" dy="10.66">NOTCH1</tspan><tspan x="477" dy="10.66">NOTCH2</tspan><tspan x="477" dy="10.66">NOTCH2</tspan><tspan x="477" dy="10.66">NOTCH2</tspan><tspan x="477" dy="10.66">NOTCH2</tspan><tspan x="477" dy="10.66">NOTCH3</tspan><tspan x="477" dy="10.66">NOTCH3</tspan><tspan x="477" dy="10.66">NOTCH3</tspan><tspan x="477" dy="10.66">NOTCH3</tspan><tspan x="477" dy="10.66">CD44</tspan><tspan x="477" dy="10.66">PDGFRB</tspan><tspan x="477" dy="10.66">EFNB1</tspan><tspan x="477" dy="10.66">EPHA3</tspan><tspan x="477" dy="10.66">EPHA2</tspan><tspan x="477" dy="10.66">EGFR</tspan><tspan x="477" dy="10.66">EGFR</tspan><tspan x="477" dy="10.66">EGFR</tspan><tspan x="477" dy="10.66">EGFR</tspan><tspan x="477" dy="10.66">TGFBR3</tspan><tspan x="477" dy="10.66">TGFB3</tspan><tspan x="477" dy="10.66">NGFR</tspan><tspan x="477" dy="10.66">FZD4</tspan><tspan x="477" dy="10.66">EGFR</tspan><tspan x="477" dy="10.66">PDGFRB</tspan><tspan x="477" dy="10.66">NRP1</tspan><tspan x="477" dy="10.66">NRP1</tspan><tspan x="477" dy="10.66">TNFRSF12A</tspan>
</text>
<g>
<circle cx="491.7" cy="465" r="5.3" fill="#ffb300"/><circle cx="502.3" cy="465" r="5.3" fill="#6070f0"/>
<circle cx="491.7" cy="475.66" r="5.3" fill="#ffb300"/><circle cx="502.3" cy="475.66" r="5.3" fill="#6070f0"/>
<circle cx="502.3" cy="486.32" r="5.3" fill="#b8c8f0"/><circle cx="545.1" cy="486.32" r="5.3" fill="#ff5010"/>
<circle cx="491.7" cy="496.98" r="5.3" fill="#ffb300"/><circle cx="502.3" cy="496.98" r="5.3" fill="#6070f0"/>
<circle cx="491.7" cy="507.64" r="5.3" fill="#ffa010"/><circle cx="502.3" cy="507.64" r="5.3" fill="#7080f0"/>
<circle cx="491.7" cy="518.3" r="5.3" fill="#ffb300"/><circle cx="502.3" cy="518.3" r="5.3" fill="#6070f0"/>
<circle cx="545.1" cy="528.96" r="5.3" fill="#ff1000"/>
<circle cx="491.7" cy="539.62" r="5.3" fill="#ffb300"/><circle cx="502.3" cy="539.62" r="5.3" fill="#6070f0"/>
<circle cx="491.7" cy="550.28" r="5.3" fill="#ffb300"/><circle cx="502.3" cy="550.28" r="5.3" fill="#6070f0"/>
<circle cx="491.7" cy="560.94" r="5.3" fill="#ffb300"/><circle cx="502.3" cy="560.94" r="5.3" fill="#6070f0"/>
<circle cx="491.7" cy="571.6" r="5.3" fill="#c8d8f0"/><circle cx="502.3" cy="571.6" r="5.3" fill="#c8d8f0"/><circle cx="534.4" cy="571.6" r="5.3" fill="#b8c8f0"/><circle cx="545.1" cy="571.6" r="5.3" fill="#ff1000"/>
<circle cx="491.7" cy="582.26" r="5.3" fill="#ffb300"/><circle cx="502.3" cy="582.26" r="5.3" fill="#6070f0"/>
<circle cx="491.7" cy="592.92" r="5.3" fill="#6070f0"/><circle cx="502.3" cy="592.92" r="5.3" fill="#ffb300"/>
<circle cx="491.7" cy="603.58" r="5.3" fill="#ff1000"/><circle cx="502.3" cy="603.58" r="5.3" fill="#dde6f0"/><circle cx="523.7" cy="603.58" r="5.3" fill="#98a8f0"/><circle cx="545.1" cy="603.58" r="5.3" fill="#98a8f0"/>
<circle cx="491.7" cy="614.24" r="5.3" fill="#ff1000"/>
<circle cx="534.4" cy="624.9" r="5.3" fill="#ff1000"/>
<circle cx="534.4" cy="635.56" r="5.3" fill="#ff1000"/>
<circle cx="491.7" cy="646.22" r="5.3" fill="#f8c840"/><circle cx="523.7" cy="646.22" r="5.3" fill="#f8c840"/>
<circle cx="523.7" cy="656.88" r="5.3" fill="#ff1000"/>
<circle cx="513" cy="667.54" r="5.3" fill="#ffb300"/><circle cx="523.7" cy="667.54" r="5.3" fill="#6070f0"/>
<circle cx="513" cy="678.2" r="5.3" fill="#ff8c00"/><circle cx="523.7" cy="678.2" r="5.3" fill="#f8c840"/>
<circle cx="513" cy="688.86" r="5.3" fill="#ffb300"/><circle cx="523.7" cy="688.86" r="5.3" fill="#6070f0"/>
<circle cx="491.7" cy="699.52" r="5.3" fill="#6070f0"/><circle cx="502.3" cy="699.52" r="5.3" fill="#ffb300"/>
<circle cx="545.1" cy="710.18" r="5.3" fill="#ff1000"/>
<circle cx="534.4" cy="720.84" r="5.3" fill="#ff1000"/>
<circle cx="534.4" cy="731.5" r="5.3" fill="#ff1000"/>
<circle cx="534.4" cy="742.16" r="5.3" fill="#ff1000"/>
<circle cx="513" cy="752.82" r="5.3" fill="#b8c8f0"/><circle cx="523.7" cy="752.82" r="5.3" fill="#98a8f0"/><circle cx="534.4" cy="752.82" r="5.3" fill="#ff1000"/><circle cx="545.1" cy="752.82" r="5.3" fill="#dde6f0"/>
<circle cx="513" cy="763.48" r="5.3" fill="#ff5010"/><circle cx="523.7" cy="763.48" r="5.3" fill="#98a8f0"/><circle cx="545.1" cy="763.48" r="5.3" fill="#c8d8f0"/>
<circle cx="534.4" cy="774.14" r="5.3" fill="#6070f0"/><circle cx="545.1" cy="774.14" r="5.3" fill="#ffb300"/>
</g>
<text x="519" y="796" font-size="10" fill="#2f6ea8" text-anchor="middle">MC2</text>
<line x1="487" y1="800.5" x2="551" y2="800.5" stroke="#222" stroke-width="1.5"/>
<g font-size="9.5" fill="#e0403a" text-anchor="end">
<text transform="translate(495,804) rotate(-90)">Endo1</text>
<text transform="translate(505.6,804) rotate(-90)">Endo2</text>
<text transform="translate(516.3,804) rotate(-90)">MP2</text>
<text transform="translate(527,804) rotate(-90)">MP3</text>
<text transform="translate(537.7,804) rotate(-90)">MC0</text>
<text transform="translate(548.4,804) rotate(-90)">MC3</text>
</g>
<g font-size="10" fill="#222">
<text x="576" y="472">-log<tspan font-size="6" dy="2">10</tspan><tspan dy="-2">(</tspan><tspan font-style="italic">P</tspan> Value)</text>
<circle cx="599" cy="482" r="1.3" fill="#000"/><circle cx="599" cy="494.5" r="3.5" fill="#000"/><circle cx="599" cy="507" r="5" fill="#000"/><circle cx="599" cy="519.5" r="6.3" fill="#000"/>
<text x="612" y="485.5">0</text><text x="612" y="498">1</text><text x="612" y="510.5">2</text><text x="612" y="523">3</text>
<rect x="581" y="532" width="20" height="99" fill="url(#dg)"/>
<text x="606" y="541">1.7</text><text x="606" y="629">-1.4</text>
<text transform="translate(630,531) rotate(90)">Mean(ligand, receptor)</text>
<rect x="581" y="645" width="14" height="7" fill="#d8184a"/><text x="599" y="652">Ligand</text>
<rect x="581" y="662" width="14" height="7" fill="#2a66a8"/><text x="599" y="669">Receptor</text>
</g>

<!-- ===== Panel g ===== -->
<text x="4" y="874" font-size="20" font-weight="bold">g</text>
<text x="84" y="876" font-size="10" fill="#222">Cell communication between clusters</text>
<rect x="131" y="885" width="76" height="282" fill="url(#pg)"/>
<rect x="131" y="885" width="76" height="282" fill="none" stroke="#aaa" stroke-width="1.5"/>
<text font-size="10.5" fill="#e0403a">
<tspan x="14" y="895.5">DLL1</tspan><tspan x="14" dy="12.12">DLL4</tspan><tspan x="14" dy="12.12">JAG1</tspan><tspan x="14" dy="12.12">JAG2</tspan><tspan x="14" dy="12.12">DLL1</tspan><tspan x="14" dy="12.12">DLL4</tspan><tspan x="14" dy="12.12">JAG1</tspan><tspan x="14" dy="12.12">JAG2</tspan><tspan x="14" dy="12.12">SELE</tspan><tspan x="14" dy="12.12">PDGFB</tspan><tspan x="14" dy="12.12">EFNA4</tspan><tspan x="14" dy="12.12">EFNB1</tspan><tspan x="14" dy="12.12">EFNB2</tspan><tspan x="14" dy="12.12">AREG</tspan><tspan x="14" dy="12.12">EREG</tspan><tspan x="14" dy="12.12">HBEGF</tspan><tspan x="14" dy="12.12">NRG1</tspan><tspan x="14" dy="12.12">TGFB1</tspan><tspan x="14" dy="12.12">WNT2</tspan><tspan x="14" dy="12.12">PDGFD</tspan><tspan x="14" dy="12.12">VEGFA</tspan><tspan x="14" dy="12.12">VEGFB</tspan><tspan x="14" dy="12.12">TNFSF12</tspan>
</text>
<text font-size="10.5" fill="#2f6ea8" text-anchor="end">
<tspan x="124" y="895.5">NOTCH2</tspan><tspan x="124" dy="12.12">NOTCH2</tspan><tspan x="124" dy="12.12">NOTCH2</tspan><tspan x="124" dy="12.12">NOTCH2</tspan><tspan x="124" dy="12.12">NOTCH3</tspan><tspan x="124" dy="12.12">NOTCH3</tspan><tspan x="124" dy="12.12">NOTCH3</tspan><tspan x="124" dy="12.12">NOTCH3</tspan><tspan x="124" dy="12.12">GLG1</tspan><tspan x="124" dy="12.12">PDGFRB</tspan><tspan x="124" dy="12.12">EPHA3</tspan><tspan x="124" dy="12.12">EPHB6</tspan><tspan x="124" dy="12.12">EPHB6</tspan><tspan x="124" dy="12.12">EGFR</tspan><tspan x="124" dy="12.12">EGFR</tspan><tspan x="124" dy="12.12">EGFR</tspan><tspan x="124" dy="12.12">EGFR</tspan><tspan x="124" dy="12.12">EGFR</tspan><tspan x="124" dy="12.12">FZD4</tspan><tspan x="124" dy="12.12">PDGFRB</tspan><tspan x="124" dy="12.12">NRP1</tspan><tspan x="124" dy="12.12">NRP1</tspan><tspan x="124" dy="12.12">TNFRSF12A</tspan>
</text>
<g>
<circle cx="138" cy="891.7" r="6" fill="#ffb300"/><circle cx="150" cy="891.7" r="6" fill="#3040f0"/>
<circle cx="138" cy="903.8" r="6" fill="#ffb300"/><circle cx="150" cy="903.8" r="6" fill="#3040f0"/>
<circle cx="198.7" cy="915.9" r="6" fill="#ff1000"/>
<circle cx="138" cy="928.1" r="6" fill="#ffb300"/><circle cx="150" cy="928.1" r="6" fill="#3040f0"/>
<circle cx="138" cy="940.2" r="6" fill="#ffb300"/><circle cx="150" cy="940.2" r="6" fill="#3040f0"/>
<circle cx="138" cy="952.3" r="6" fill="#ffb300"/><circle cx="150" cy="952.3" r="6" fill="#3040f0"/>
<circle cx="138" cy="964.4" r="6" fill="#b8c8f0"/><circle cx="150" cy="964.4" r="6" fill="#c8d8f0"/><circle cx="186.7" cy="964.4" r="6" fill="#8898f0"/><circle cx="198.7" cy="964.4" r="6" fill="#ff1000"/>
<circle cx="138" cy="976.5" r="6" fill="#ffb300"/><circle cx="150" cy="976.5" r="6" fill="#3040f0"/>
<circle cx="138" cy="988.7" r="6" fill="#3040f0"/><circle cx="150" cy="988.7" r="6" fill="#ffb300"/>
<circle cx="138" cy="1000.8" r="6" fill="#ff1000"/><circle cx="150" cy="1000.8" r="6" fill="#dde6f0"/><circle cx="174.3" cy="1000.8" r="6" fill="#7080f0"/><circle cx="198.7" cy="1000.8" r="6" fill="#8898f0"/>
<circle cx="186.7" cy="1012.9" r="6" fill="#ff1000"/>
<circle cx="138" cy="1025" r="6" fill="#ff1000"/><circle cx="174.3" cy="1025" r="6" fill="#8898f0"/><circle cx="186.7" cy="1025" r="6" fill="#c8d8f0"/><circle cx="198.7" cy="1025" r="6" fill="#a0b0f0"/>
<circle cx="138" cy="1037.1" r="6" fill="#ffb300"/><circle cx="150" cy="1037.1" r="6" fill="#3040f0"/>
<circle cx="174.3" cy="1049.3" r="6" fill="#ff1000"/>
<circle cx="162.3" cy="1061.4" r="6" fill="#ffb300"/><circle cx="174.3" cy="1061.4" r="6" fill="#3040f0"/>
<circle cx="138" cy="1073.5" r="6" fill="#ffb300"/><circle cx="162.3" cy="1073.5" r="6" fill="#7080f0"/><circle cx="174.3" cy="1073.5" r="6" fill="#f8c840"/>
<circle cx="186.7" cy="1085.6" r="6" fill="#ff1000"/>
<circle cx="138" cy="1097.7" r="6" fill="#6070f0"/><circle cx="162.3" cy="1097.7" r="6" fill="#ff8c00"/><circle cx="174.3" cy="1097.7" r="6" fill="#f8c840"/><circle cx="186.7" cy="1097.7" r="6" fill="#1010ff"/>
<circle cx="186.7" cy="1109.9" r="6" fill="#ff1000"/>
<circle cx="186.7" cy="1122" r="6" fill="#ff1000"/>
<circle cx="162.3" cy="1134.1" r="6" fill="#ff1000"/>
<circle cx="186.7" cy="1146.2" r="6" fill="#ff1000"/>
<circle cx="138" cy="1158.3" r="6" fill="#c0d0ee"/><circle cx="174.3" cy="1158.3" r="6" fill="#c0d0ee"/><circle cx="186.7" cy="1158.3" r="6" fill="#e8ecf0"/><circle cx="198.7" cy="1158.3" r="6" fill="#ff1000"/>
</g>
<text x="168" y="1185" font-size="10.5" fill="#2f6ea8" text-anchor="middle">MC3</text>
<line x1="132" y1="1189.5" x2="203" y2="1189.5" stroke="#222" stroke-width="1.5"/>
<g font-size="10" fill="#e0403a" text-anchor="end">
<text transform="translate(141.5,1192) rotate(-90)">Endo1</text>
<text transform="translate(153.5,1192) rotate(-90)">Endo2</text>
<text transform="translate(165.8,1192) rotate(-90)">MP2</text>
<text transform="translate(177.8,1192) rotate(-90)">MP3</text>
<text transform="translate(190.2,1192) rotate(-90)">MC0</text>
<text transform="translate(202.2,1192) rotate(-90)">MC2</text>
</g>
<g font-size="10" fill="#222">
<text x="232" y="904">-log<tspan font-size="6" dy="2">10</tspan><tspan dy="-2">(</tspan><tspan font-style="italic">P</tspan> Value)</text>
<circle cx="256" cy="915" r="1.3" fill="#000"/><circle cx="256" cy="927.5" r="3.5" fill="#000"/><circle cx="256" cy="939.5" r="5" fill="#000"/><circle cx="256" cy="952" r="6.3" fill="#000"/>
<text x="268" y="918.5">0</text><text x="268" y="931">1</text><text x="268" y="943">2</text><text x="268" y="955.5">3</text>
<rect x="237" y="965" width="20" height="97" fill="url(#dg)"/>
<text x="262" y="974">1.8</text><text x="261" y="1062">-1.2</text>
<text transform="translate(286,964) rotate(90)">Mean(ligand, receptor)</text>
<rect x="237" y="1078" width="14" height="7" fill="#d8184a"/><text x="255" y="1085">Ligand</text>
<rect x="237" y="1094" width="14" height="7" fill="#2a66a8"/><text x="255" y="1101">Receptor</text>
</g>

<!-- ===== Panel h ===== -->
<text x="352" y="874" font-size="20" font-weight="bold">h</text>
<text x="456.7" y="876" font-size="10" fill="#222">Cell communication between clusters</text>
<rect x="473" y="886" width="131" height="205" fill="url(#ph)"/>
<rect x="473" y="886" width="131" height="205" fill="none" stroke="#aaa" stroke-width="1.5"/>
<text font-size="10" fill="#e0403a">
<tspan x="355" y="895.2">CXCL1</tspan><tspan x="355" dy="10.7">SELPLG</tspan><tspan x="355" dy="10.7">SELP</tspan><tspan x="355" dy="10.7">PLXNC1</tspan><tspan x="355" dy="10.7">DSG2</tspan><tspan x="355" dy="10.7">SEMA7A</tspan><tspan x="355" dy="10.7">CCL23</tspan><tspan x="355" dy="10.7">CD200R1</tspan><tspan x="355" dy="10.7">CCL14</tspan><tspan x="355" dy="10.7">CD200</tspan><tspan x="355" dy="10.7">DLL1</tspan><tspan x="355" dy="10.7">NOTCH1</tspan><tspan x="355" dy="10.7">ENTPD1</tspan><tspan x="355" dy="10.7">SPP1</tspan><tspan x="355" dy="10.7">PDGFC</tspan><tspan x="355" dy="10.7">FLT4</tspan><tspan x="355" dy="10.7">HGF</tspan><tspan x="355" dy="10.7">IGF2</tspan><tspan x="355" dy="10.7">EPHB2</tspan>
</text>
<text font-size="10" fill="#2f6ea8" text-anchor="end">
<tspan x="467.7" y="895.2">CXCL1</tspan><tspan x="467.7" dy="10.7">SELP</tspan><tspan x="467.7" dy="10.7">SELPLG</tspan><tspan x="467.7" dy="10.7">SEMA7A</tspan><tspan x="467.7" dy="10.7">DSC2</tspan><tspan x="467.7" dy="10.7">PLXNC1</tspan><tspan x="467.7" dy="10.7">CCR1</tspan><tspan x="467.7" dy="10.7">CD200</tspan><tspan x="467.7" dy="10.7">CCR1</tspan><tspan x="467.7" dy="10.7">CD200R1</tspan><tspan x="467.7" dy="10.7">NOTCH1</tspan><tspan x="467.7" dy="10.7">DLL1</tspan><tspan x="467.7" dy="10.7">ADORA3</tspan><tspan x="467.7" dy="10.7">aVb3 complex</tspan><tspan x="467.7" dy="10.7">FLT4</tspan><tspan x="467.7" dy="10.7">PDGFC</tspan><tspan x="467.7" dy="10.7">MET</tspan><tspan x="467.7" dy="10.7">IDE</tspan><tspan x="467.7" dy="10.7">EFNB2</tspan>
</text>
<g>
<circle cx="490.7" cy="891.7" r="5" fill="#c0d0ee"/><circle cx="501.3" cy="891.7" r="5" fill="#ff7a10"/><circle cx="512" cy="891.7" r="5" fill="#c0d0ee"/><circle cx="522.7" cy="891.7" r="5" fill="#dde6f0"/><circle cx="533.3" cy="891.7" r="5" fill="#ff1000"/>
<circle cx="501.3" cy="902.4" r="5" fill="#b8c8f0"/><circle cx="533.3" cy="902.4" r="5" fill="#ff7a10"/>
<circle cx="586.7" cy="913.1" r="5" fill="#b8c8f0"/><circle cx="597.3" cy="913.1" r="5" fill="#ff7a10"/>
<circle cx="480" cy="923.8" r="5" fill="#b8c8f0"/><circle cx="512" cy="923.8" r="5" fill="#ff7a10"/>
<circle cx="586.7" cy="934.5" r="5" fill="#b8c8f0"/><circle cx="597.3" cy="934.5" r="5" fill="#ff7a10"/>
<circle cx="544" cy="945.2" r="5" fill="#b8c8f0"/><circle cx="554.7" cy="945.2" r="5" fill="#ff7a10"/>
<circle cx="565.3" cy="955.9" r="5" fill="#6070f0"/><circle cx="576" cy="955.9" r="5" fill="#e8ecf0"/><circle cx="586.7" cy="955.9" r="5" fill="#f8d880"/><circle cx="597.3" cy="955.9" r="5" fill="#ff1000"/>
<circle cx="480" cy="966.6" r="5" fill="#f0e8d8"/><circle cx="490.7" cy="966.6" r="5" fill="#f8c840"/><circle cx="501.3" cy="966.6" r="5" fill="#1010ff"/><circle cx="512" cy="966.6" r="5" fill="#ffa010"/><circle cx="522.7" cy="966.6" r="5" fill="#ff4010"/><circle cx="533.3" cy="966.6" r="5" fill="#c0d0ee"/>
<circle cx="565.3" cy="977.3" r="5" fill="#8090f0"/><circle cx="576" cy="977.3" r="5" fill="#d0dcee"/><circle cx="586.7" cy="977.3" r="5" fill="#ffb000"/><circle cx="597.3" cy="977.3" r="5" fill="#ff1000"/>
<circle cx="544" cy="988" r="5" fill="#f0e8d8"/><circle cx="554.7" cy="988" r="5" fill="#ff9010"/><circle cx="565.3" cy="988" r="5" fill="#f8c840"/><circle cx="576" cy="988" r="5" fill="#ff4010"/><circle cx="586.7" cy="988" r="5" fill="#1010ff"/><circle cx="597.3" cy="988" r="5" fill="#c0d0ee"/>
<circle cx="576" cy="998.7" r="5" fill="#ff7010"/><circle cx="597.3" cy="998.7" r="5" fill="#b8c8f0"/>
<circle cx="522.7" cy="1009.4" r="5" fill="#ff7010"/><circle cx="533.3" cy="1009.4" r="5" fill="#b8c8f0"/>
<circle cx="544" cy="1020.1" r="5" fill="#3040f0"/><circle cx="554.7" cy="1020.1" r="5" fill="#c0d0ee"/><circle cx="565.3" cy="1020.1" r="5" fill="#dde6f0"/><circle cx="576" cy="1020.1" r="5" fill="#f8d070"/><circle cx="586.7" cy="1020.1" r="5" fill="#ff8c10"/><circle cx="597.3" cy="1020.1" r="5" fill="#ff1000"/>
<circle cx="480" cy="1030.8" r="5" fill="#ff8c10"/><circle cx="490.7" cy="1030.8" r="5" fill="#ff9010"/><circle cx="501.3" cy="1030.8" r="5" fill="#ff5010"/><circle cx="512" cy="1030.8" r="5" fill="#a8b8f0"/><circle cx="522.7" cy="1030.8" r="5" fill="#98a8f0"/><circle cx="533.3" cy="1030.8" r="5" fill="#c0d0ee"/>
<circle cx="480" cy="1041.5" r="5" fill="#d0dcee"/><circle cx="490.7" cy="1041.5" r="5" fill="#e0e8f0"/><circle cx="501.3" cy="1041.5" r="5" fill="#1818ff"/><circle cx="512" cy="1041.5" r="5" fill="#ff5010"/><circle cx="522.7" cy="1041.5" r="5" fill="#ff3010"/><circle cx="533.3" cy="1041.5" r="5" fill="#f8e0a8"/>
<circle cx="544" cy="1052.2" r="5" fill="#d0dcee"/><circle cx="554.7" cy="1052.2" r="5" fill="#ff7010"/><circle cx="565.3" cy="1052.2" r="5" fill="#dde6f0"/><circle cx="576" cy="1052.2" r="5" fill="#ff3010"/><circle cx="586.7" cy="1052.2" r="5" fill="#2030f0"/><circle cx="597.3" cy="1052.2" r="5" fill="#f8e0a8"/>
<circle cx="480" cy="1062.9" r="5" fill="#ff4010"/><circle cx="490.7" cy="1062.9" r="5" fill="#6070f0"/><circle cx="501.3" cy="1062.9" r="5" fill="#e8ecf0"/><circle cx="512" cy="1062.9" r="5" fill="#ff1000"/><circle cx="522.7" cy="1062.9" r="5" fill="#b8c8f0"/><circle cx="533.3" cy="1062.9" r="5" fill="#f0e8d8"/>
<circle cx="544" cy="1073.6" r="5" fill="#f8c840"/><circle cx="554.7" cy="1073.6" r="5" fill="#6070f0"/><circle cx="565.3" cy="1073.6" r="5" fill="#ff3010"/><circle cx="576" cy="1073.6" r="5" fill="#dde6f0"/>
<circle cx="480" cy="1084.3" r="5" fill="#ff1000"/><circle cx="490.7" cy="1084.3" r="5" fill="#dde6f0"/><circle cx="501.3" cy="1084.3" r="5" fill="#a0b0f0"/><circle cx="512" cy="1084.3" r="5" fill="#ff1000"/><circle cx="522.7" cy="1084.3" r="5" fill="#dde6f0"/><circle cx="533.3" cy="1084.3" r="5" fill="#b8c8f0"/>
</g>
<g font-size="9.5" fill="#2f6ea8" text-anchor="end">
<text transform="translate(483.5,1094) rotate(-90)">Endo0</text>
<text transform="translate(494.2,1094) rotate(-90)">Endo1</text>
<text transform="translate(504.8,1094) rotate(-90)">Endo2</text>
<text transform="translate(515.5,1094) rotate(-90)">Endo0</text>
<text transform="translate(526.2,1094) rotate(-90)">Endo1</text>
<text transform="translate(536.8,1094) rotate(-90)">Endo2</text>
<text transform="translate(547.5,1094) rotate(-90)">MP2</text>
<text transform="translate(558.2,1094) rotate(-90)">MP3</text>
<text transform="translate(568.8,1094) rotate(-90)">MC2</text>
<text transform="translate(579.5,1094) rotate(-90)">MC3</text>
<text transform="translate(590.2,1094) rotate(-90)">MC2</text>
<text transform="translate(600.8,1094) rotate(-90)">MC3</text>
</g>
<g stroke="#222" stroke-width="1.5">
<line x1="474" y1="1130" x2="503" y2="1130"/><line x1="506" y1="1130" x2="536" y2="1130"/>
<line x1="539" y1="1123" x2="557" y2="1123"/><line x1="560" y1="1123" x2="578" y2="1123"/><line x1="581" y1="1123" x2="600" y2="1123"/>
</g>
<g font-size="10" fill="#e0403a">
<text x="489" y="1144" text-anchor="middle">MP2</text><text x="521" y="1144" text-anchor="middle">MP3</text>
<text transform="translate(551.5,1127) rotate(-90)" text-anchor="end">Endo0</text>
<text transform="translate(572.5,1127) rotate(-90)" text-anchor="end">Endo1</text>
<text transform="translate(593.5,1127) rotate(-90)" text-anchor="end">Endo2</text>
</g>
<g font-size="10" fill="#222">
<text x="628" y="898">-log<tspan font-size="6" dy="2">10</tspan><tspan dy="-2">(</tspan><tspan font-style="italic">P</tspan> Value)</text>
<circle cx="652" cy="909" r="1.3" fill="#000"/><circle cx="652" cy="921" r="3.5" fill="#000"/><circle cx="652" cy="933.5" r="5" fill="#000"/><circle cx="652" cy="946" r="6.3" fill="#000"/>
<text x="665" y="912.5">0</text><text x="665" y="924.5">1</text><text x="665" y="937">2</text><text x="665" y="949.5">3</text>
<rect x="633" y="959" width="20" height="99" fill="url(#dg)"/>
<text x="657" y="967">1.5</text><text x="657" y="1055">-1.7</text>
<text transform="translate(684,958) rotate(90)">Mean(ligand, receptor)</text>
<rect x="633" y="1072" width="14" height="7" fill="#d8184a"/><text x="651" y="1079">Ligand</text>
<rect x="633" y="1088" width="14" height="7" fill="#2a66a8"/><text x="651" y="1095">Receptor</text>
</g>
</svg>
</body></html>
